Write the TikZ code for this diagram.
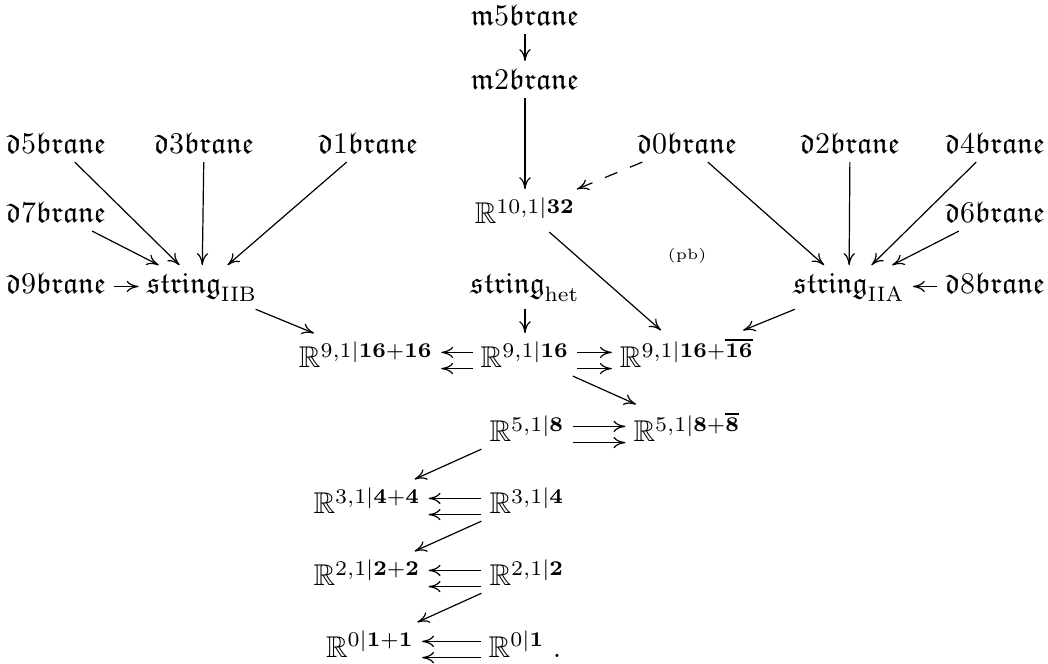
\documentclass[tikz,border=0pt]{standalone}
\usepackage{amssymb}
\usetikzlibrary{arrows.meta}
\newcommand{\fr}[2]{\mathfrak{#1}#2\mathfrak{brane}}
\begin{document}
\begin{tikzpicture}[x=0.3333pt,y=-0.3333pt,
  >={Computer Modern Rightarrow[length=4pt,width=3.8pt]},
  ent/.style={inner sep=2.5pt, anchor=base},
  ar/.style={->},
  dar/.style={->, dash pattern=on 4.5pt off 4.5pt}]
\useasboundingbox (0,0) rectangle (1048,664);
% top
\node[ent] (m5) at (525,26) {$\fr{m}{5}$};
\node[ent] (m2) at (525,90) {$\fr{m}{2}$};
% d row
\node[ent] (d5) at (56,154) {$\fr{d}{5}$};
\node[ent] (d3) at (204,154) {$\fr{d}{3}$};
\node[ent] (d1) at (368,154) {$\fr{d}{1}$};
\node[ent] (d0) at (687,154) {$\fr{d}{0}$};
\node[ent] (d2) at (850,154) {$\fr{d}{2}$};
\node[ent] (d4) at (995,154) {$\fr{d}{4}$};
% second row
\node[ent] (d7) at (56,223) {$\fr{d}{7}$};
\node[ent] (r10) at (525,224) {$\mathbb{R}^{10,1\vert\mathbf{32}}$};
\node[ent] (d6) at (995,223) {$\fr{d}{6}$};
\node[ent] (pb) at (687,260) {\tiny (pb)};
% string row
\node[ent] (d9) at (56,294) {$\fr{d}{9}$};
\node[ent] (iib) at (202,294) {$\mathfrak{string}_{\mathrm{IIB}}$};
\node[ent] (het) at (525,294) {$\mathfrak{string}_{\mathrm{het}}$};
\node[ent] (iia) at (849,294) {$\mathfrak{string}_{\mathrm{IIA}}$};
\node[ent] (d8) at (995,294) {$\fr{d}{8}$};
% R rows
\node[ent] (a1) at (366,368) {$\mathbb{R}^{9,1\vert\mathbf{16}+\mathbf{16}}$};
\node[ent] (a2) at (525,368) {$\mathbb{R}^{9,1\vert\mathbf{16}}$};
\node[ent] (a3) at (687,368) {$\mathbb{R}^{9,1\vert\mathbf{16}+\overline{\mathbf{16}}}$};
\node[ent] (b2) at (527,442) {$\mathbb{R}^{5,1\vert\mathbf{8}}$};
\node[ent] (b3) at (687,442) {$\mathbb{R}^{5,1\vert\mathbf{8}+\overline{\mathbf{8}}}$};
\node[ent] (c1) at (367,514) {$\mathbb{R}^{3,1\vert\mathbf{4}+\mathbf{4}}$};
\node[ent] (c2) at (527,514) {$\mathbb{R}^{3,1\vert\mathbf{4}}$};
\node[ent] (e1) at (367,586) {$\mathbb{R}^{2,1\vert\mathbf{2}+\mathbf{2}}$};
\node[ent] (e2) at (527,586) {$\mathbb{R}^{2,1\vert\mathbf{2}}$};
\node[ent] (f1) at (370,657) {$\mathbb{R}^{0\vert\mathbf{1}+\mathbf{1}}$};
\node[ent] (f2) at (525,657) {$\mathbb{R}^{0\vert\mathbf{1}}$\;.};
% arrows top
\draw[ar] (m5) -- (m2);
\draw[ar] (m2) -- (r10);
\draw[dar] (d0) -- (r10);
\draw[ar] (r10) -- (a3);
% IIB
\draw[ar] (d5) -- (iib);
\draw[ar] (d3) -- (iib);
\draw[ar] (d1) -- (iib);
\draw[ar] (d7) -- (iib);
\draw[ar] ([yshift=2.5pt]d9.base east) -- ([yshift=2.5pt]iib.base west);
\draw[ar] (iib) -- (a1);
% IIA
\draw[ar] (d0) -- (iia);
\draw[ar] (d2) -- (iia);
\draw[ar] (d4) -- (iia);
\draw[ar] (d6) -- (iia);
\draw[ar] ([yshift=2.5pt]d8.base west) -- ([yshift=2.5pt]iia.base east);
\draw[ar] (iia) -- (a3);
% het
\draw[ar] (het) -- (a2);
% double arrows
\foreach \s in {5.2pt,-0.2pt}{
  \draw[ar] ([yshift=\s]a2.base west) -- ([yshift=\s]a1.base east);
  \draw[ar] ([yshift=\s]a2.base east) -- ([yshift=\s]a3.base west);
  \draw[ar] ([yshift=\s]b2.base east) -- ([yshift=\s]b3.base west);
  \draw[ar] ([yshift=\s]c2.base west) -- ([yshift=\s]c1.base east);
  \draw[ar] ([yshift=\s]e2.base west) -- ([yshift=\s]e1.base east);
  \draw[ar] ([yshift=\s]f2.base west) -- ([yshift=\s]f1.base east);
}
\draw[ar] (a2) -- (b3);
\draw[ar] (b2) -- (c1);
\draw[ar] (c2) -- (e1);
\draw[ar] (e2) -- (f1);
\end{tikzpicture}
\end{document}
